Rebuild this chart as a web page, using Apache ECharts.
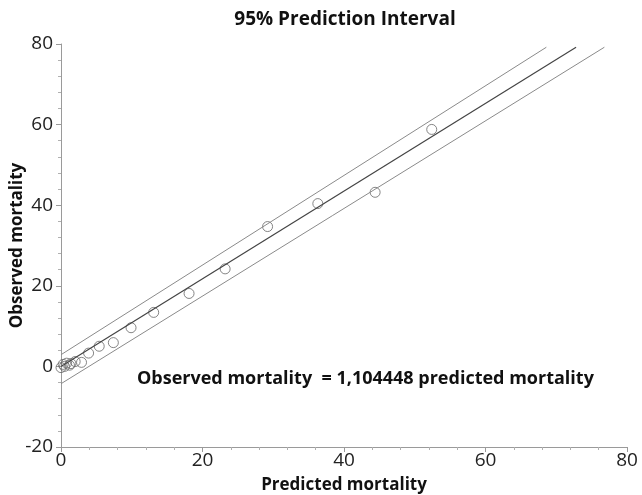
<!DOCTYPE html>
<html><head><meta charset="utf-8">
<script src="https://cdn.jsdelivr.net/npm/echarts@6/dist/echarts.min.js"></script>
<style>html,body{margin:0;padding:0;background:#fff}#c{width:642px;height:495px}</style>
</head><body><div id="c"></div>
<script>
const titleText = "95% Prediction Interval";
const xName = "Predicted mortality";
const yName = "Observed mortality";
const equationText = "Observed mortality  = 1,104448 predicted mortality";
const observedPoints = [[0.0,-0.3],[0.3,0.5],[0.5,0.0],[0.8,0.8],[1.2,0.3],[1.4,0.7],[2.0,1.2],[2.9,1.0],[3.9,3.3],[5.4,5.0],[7.4,5.9],[9.9,9.6],[13.1,13.4],[18.1,18.1],[23.2,24.2],[29.2,34.7],[36.3,40.4],[44.4,43.2],[52.4,58.8]];
const fitLine = [[0,0],[72.8,79.2]];
const upperPI = [[0,2.9],[68.6,79.2]];
const lowerPI = [[0,-4.3],[76.8,79.2]];
const xTicks = [0,20,40,60,80];
const yTicks = [-20,0,20,40,60,80];

const font = "Open Sans";
const chart = echarts.init(document.getElementById('c'));
chart.setOption({
  animation:false,
  title:{text:titleText,left:340,top:5,textAlign:'center',textStyle:{fontFamily:font,fontWeight:'bold',fontSize:19,color:'#111'}},
  grid:{left:61,right:15,top:44,bottom:48,outerBoundsMode:'none',containLabel:false},
  xAxis:{type:'value',min:xTicks[0],max:xTicks[xTicks.length-1],interval:20,
    name:xName,nameLocation:'middle',nameGap:30,nameMoveOverlap:false,nameTextStyle:{fontFamily:font,fontWeight:'bold',fontSize:17,color:'#111'},
    axisLine:{show:true,onZero:false,lineStyle:{color:'#9a9a9a'}},
    axisTick:{show:true,length:5,lineStyle:{color:'#9a9a9a'}},
    minorTick:{show:true,splitNumber:5,length:3,lineStyle:{color:'#b0b0b0'}},
    splitLine:{show:false},
    axisLabel:{fontFamily:font,fontSize:19,color:'#222',margin:4}},
  yAxis:{type:'value',min:yTicks[0],max:yTicks[yTicks.length-1],interval:20,
    name:yName,nameLocation:'middle',nameGap:35,nameMoveOverlap:false,nameRotate:90,nameTextStyle:{fontFamily:font,fontWeight:'bold',fontSize:17,color:'#111'},
    axisLine:{show:true,onZero:false,lineStyle:{color:'#9a9a9a'}},
    axisTick:{show:true,length:5,lineStyle:{color:'#9a9a9a'}},
    minorTick:{show:true,splitNumber:5,length:3,lineStyle:{color:'#b0b0b0'}},
    splitLine:{show:false},
    axisLabel:{fontFamily:font,fontSize:19,color:'#222',margin:8}},
  series:[
    {type:'line',data:upperPI,symbol:'none',lineStyle:{color:'#8a8a8a',width:1}},
    {type:'line',data:lowerPI,symbol:'none',lineStyle:{color:'#8a8a8a',width:1}},
    {type:'line',data:fitLine,symbol:'none',lineStyle:{color:'#444',width:1.2}},
    {type:'scatter',data:observedPoints,symbol:'circle',symbolSize:10,itemStyle:{color:'rgba(255,255,255,0)',borderColor:'#666',borderWidth:1}}
  ],
  graphic:[{type:'text',left:137,top:370,style:{text:equationText,fontFamily:font,fontWeight:'bold',fontSize:18,fill:'#111'}}]
});
</script></body></html>
